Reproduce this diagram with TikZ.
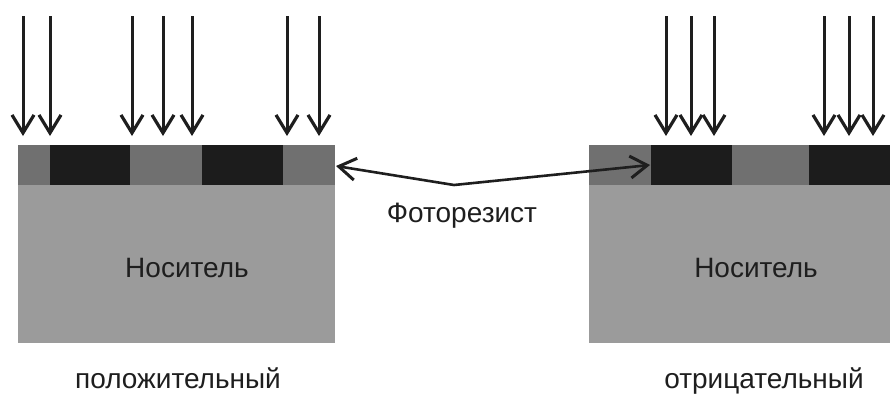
\documentclass[tikz,border=0pt]{standalone}
\usepackage{fontspec}
\setmainfont{Liberation Sans}
\usetikzlibrary{arrows.meta}
\definecolor{resist}{HTML}{707070}
\definecolor{subst}{HTML}{9B9B9B}
\definecolor{mask}{HTML}{1C1C1C}
\definecolor{ink}{HTML}{1E1E1E}
\tikzset{
  ray/.style={draw=ink, line width=3pt, -{Straight Barb[length=18pt,width=22pt,line width=3.2pt]}},
  pointer/.style={draw=ink, line width=2.6pt, line join=round, {Straight Barb[length=17pt,width=22pt,line width=3pt]}-{Straight Barb[length=17pt,width=22pt,line width=3pt]}},
  label/.style={text=ink, font=\fontsize{28}{32}\selectfont, inner sep=0pt, anchor=base},
}
\begin{document}
\begin{tikzpicture}[x=1pt,y=-1pt]
\useasboundingbox (0,0) rectangle (891,394);
% left sample
\fill[subst] (18,185) rectangle (335,343);
\fill[resist] (18,145) rectangle (335,185);
\fill[mask] (50,145) rectangle (130,185);
\fill[mask] (202,145) rectangle (283,185);
% right sample
\fill[subst] (589,185) rectangle (890,343);
\fill[resist] (589,145) rectangle (890,185);
\fill[mask] (651,145) rectangle (732,185);
\fill[mask] (809,145) rectangle (890,185);
% named points
\coordinate (pl) at (336,166);
\coordinate (pm) at (454,185);
\coordinate (pr) at (650,165);
% rays left
\foreach \x [count=\i] in {23,50,132,163,192,287,319}{
  \coordinate (lt\i) at (\x,16);
  \coordinate (lb\i) at (\x,136);
  \draw[ray] (lt\i) -- (lb\i);
}
% rays right
\foreach \x [count=\i] in {666,691,714,824,849,873}{
  \coordinate (rt\i) at (\x,16);
  \coordinate (rb\i) at (\x,136);
  \draw[ray] (rt\i) -- (rb\i);
}
\draw[pointer] (pl) -- (pm) -- (pr);
% labels
\node[label] (foto) at (462,222) {Фоторезист};
\node[label] (nosL) at (187,277) {Носитель};
\node[label] (nosR) at (756,277) {Носитель};
\node[label] (pos) at (178,388) {положительный};
\node[label] (neg) at (764,388) {отрицательный};
\end{tikzpicture}
\end{document}
